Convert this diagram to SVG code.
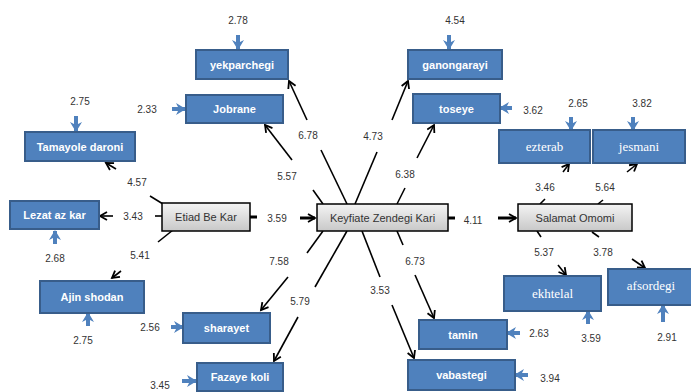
<svg xmlns="http://www.w3.org/2000/svg" width="691" height="392" viewBox="0 0 691 392">
<defs>
<linearGradient id="gg" x1="0" y1="0" x2="0" y2="1">
<stop offset="0" stop-color="#f4f4f4"/>
<stop offset="1" stop-color="#c8c8c8"/>
</linearGradient>
<marker id="ah" markerUnits="userSpaceOnUse" markerWidth="12" markerHeight="12" refX="8" refY="5" orient="auto">
<path d="M1,1 L8,5 L1,9" fill="none" stroke="#000" stroke-width="1.8"/>
</marker>
<marker id="ahb" markerUnits="userSpaceOnUse" markerWidth="14" markerHeight="14" refX="9" refY="6" orient="auto">
<path d="M0,0 L10,6 L0,12 L3,6 z" fill="#4f81bd"/>
</marker>
</defs>
<style>
.bb{fill:#4f81bd;stroke:#385d8a;stroke-width:2}
.gb{fill:url(#gg);stroke:#000;stroke-width:1.5}
.bt{font-family:"Liberation Sans",Arial,sans-serif;font-size:11px;font-weight:bold;fill:#fff;text-anchor:middle}
.st{font-family:"Liberation Serif","Times New Roman",serif;font-size:13px;fill:#fff;text-anchor:middle}
.gt{font-family:"Liberation Sans",Arial,sans-serif;font-size:11px;fill:#333;text-anchor:middle}
.n{font-family:"Liberation Sans",Arial,sans-serif;font-size:10px;fill:#333;text-anchor:middle}
.c line{stroke:#000;stroke-width:1.6}
.c line.a{marker-end:url(#ah)}
.c line.t{stroke-width:3}
.e line{stroke:#4f81bd;stroke-width:4;marker-end:url(#ahb)}
</style>
<rect width="691" height="392" fill="#fff"/>

<g class="c" id="connectors">
<line x1="347" y1="204" x2="321" y2="150"/><line class="a" x1="307" y1="120" x2="289" y2="81"/>
<line x1="323" y1="204" x2="313" y2="190"/><line class="a" x1="292" y1="160" x2="265" y2="125"/>
<line x1="355" y1="204" x2="377" y2="152"/><line class="a" x1="392" y1="120" x2="408" y2="81"/>
<line x1="397" y1="204" x2="405" y2="188"/><line class="a" x1="417" y1="158" x2="434" y2="125"/>
<line x1="323" y1="231" x2="307" y2="253"/><line class="a" x1="288" y1="277" x2="261" y2="310"/>
<line x1="347" y1="231" x2="315" y2="287"/><line class="a" x1="298" y1="317" x2="274" y2="361"/>
<line x1="362" y1="231" x2="380" y2="277"/><line class="a" x1="392" y1="305" x2="414" y2="358"/>
<line x1="397" y1="231" x2="403" y2="245"/><line class="a" x1="415" y1="275" x2="434" y2="318"/>
<line class="t" x1="448" y1="218" x2="455" y2="218"/><line class="t a" x1="498" y1="218" x2="516" y2="218"/>
<line class="t" x1="250" y1="217" x2="257" y2="217"/><line class="t a" x1="300" y1="218" x2="315" y2="218"/>
<line x1="163" y1="204" x2="150" y2="196"/><line class="a" x1="116" y1="169" x2="106" y2="163"/>
<line x1="162" y1="216" x2="155" y2="216"/><line class="a" x1="113" y1="216" x2="100" y2="216"/>
<line x1="173" y1="230" x2="158" y2="242"/><line class="a" x1="121" y1="271" x2="112" y2="278"/>
<line x1="540" y1="204" x2="545" y2="199"/><line class="a" x1="563" y1="172" x2="569" y2="164"/>
<line x1="598" y1="204" x2="603" y2="200"/><line class="a" x1="627" y1="172" x2="637" y2="164"/>
<line x1="537" y1="231" x2="541" y2="237"/><line class="a" x1="558" y1="265" x2="566" y2="275"/>
<line x1="592" y1="232" x2="599" y2="237"/><line class="a" x1="632" y1="259" x2="645" y2="268"/>
</g>

<g class="e" id="error-arrows">
<line x1="238" y1="35" x2="238" y2="49"/>
<line x1="172" y1="109" x2="185" y2="109"/>
<line x1="76" y1="116" x2="76" y2="131"/>
<line x1="55" y1="244" x2="55" y2="231"/>
<line x1="88" y1="326" x2="88" y2="313"/>
<line x1="171" y1="327" x2="183" y2="327"/>
<line x1="182" y1="381" x2="196" y2="381"/>
<line x1="449" y1="35" x2="449" y2="49"/>
<line x1="512" y1="108" x2="500" y2="108"/>
<line x1="571" y1="117" x2="571" y2="130"/>
<line x1="633" y1="117" x2="633" y2="130"/>
<line x1="520" y1="333" x2="507" y2="333"/>
<line x1="528" y1="375" x2="515" y2="375"/>
<line x1="588" y1="324" x2="588" y2="311"/>
<line x1="663" y1="322" x2="663" y2="305"/>
</g>

<g id="keyfiate"><rect class="gb" x="317" y="204" width="131" height="27"/><text class="gt" x="382.5" y="222">Keyfiate Zendegi Kari</text></g>
<g id="etiad"><rect class="gb" x="162" y="203" width="88" height="28"/><text class="gt" x="206" y="221">Etiad Be Kar</text></g>
<g id="salamat"><rect class="gb" x="518" y="204" width="114" height="27"/><text class="gt" x="575" y="222">Salamat Omomi</text></g>

<g id="yekparchegi"><rect class="bb" x="196" y="50" width="92" height="29"/><text class="bt" x="242" y="68.5">yekparchegi</text></g>
<g id="jobrane"><rect class="bb" x="186" y="95" width="97" height="28"/><text class="bt" x="234.5" y="113">Jobrane</text></g>
<g id="tamayole"><rect class="bb" x="25" y="132" width="110" height="29"/><text class="bt" x="80" y="150.5">Tamayole daroni</text></g>
<g id="lezat"><rect class="bb" x="10" y="201" width="89" height="28"/><text class="bt" x="54.5" y="219">Lezat az kar</text></g>
<g id="ajin"><rect class="bb" x="40" y="281" width="104" height="32"/><text class="bt" x="92" y="301">Ajin shodan</text></g>
<g id="sharayet"><rect class="bb" x="183" y="313" width="87" height="30"/><text class="bt" x="226.5" y="332">sharayet</text></g>
<g id="fazaye"><rect class="bb" x="197" y="363" width="86" height="28"/><text class="bt" x="240" y="381">Fazaye koli</text></g>
<g id="ganongarayi"><rect class="bb" x="408" y="50" width="94" height="29"/><text class="bt" x="455" y="68.5">ganongarayi</text></g>
<g id="toseye"><rect class="bb" x="413" y="94" width="87" height="29"/><text class="bt" x="456.5" y="112.5">toseye</text></g>
<g id="ezterab"><rect class="bb" x="499" y="130" width="91" height="33"/><text class="st" x="544.5" y="151">ezterab</text></g>
<g id="jesmani"><rect class="bb" x="593" y="130" width="92" height="33"/><text class="st" x="639" y="151">jesmani</text></g>
<g id="ekhtelal"><rect class="bb" x="504" y="276" width="97" height="35"/><text class="st" x="552.5" y="298">ekhtelal</text></g>
<g id="afsordegi"><rect class="bb" x="608" y="269" width="86" height="36"/><text class="st" x="651" y="290">afsordegi</text></g>
<g id="tamin"><rect class="bb" x="419" y="320" width="88" height="29"/><text class="bt" x="463" y="338.5">tamin</text></g>
<g id="vabastegi"><rect class="bb" x="408" y="360" width="107" height="30"/><text class="bt" x="461.5" y="379">vabastegi</text></g>

<g id="labels">
<text class="n" x="238" y="24">2.78</text>
<text class="n" x="147" y="113">2.33</text>
<text class="n" x="80" y="105">2.75</text>
<text class="n" x="137" y="186">4.57</text>
<text class="n" x="308" y="139">6.78</text>
<text class="n" x="287" y="180">5.57</text>
<text class="n" x="133" y="220">3.43</text>
<text class="n" x="277" y="222">3.59</text>
<text class="n" x="55" y="262">2.68</text>
<text class="n" x="140" y="259">5.41</text>
<text class="n" x="279" y="265">7.58</text>
<text class="n" x="300" y="305">5.79</text>
<text class="n" x="83" y="344">2.75</text>
<text class="n" x="150" y="331">2.56</text>
<text class="n" x="160" y="389">3.45</text>
<text class="n" x="455" y="24">4.54</text>
<text class="n" x="373" y="140">4.73</text>
<text class="n" x="405" y="178">6.38</text>
<text class="n" x="533" y="114">3.62</text>
<text class="n" x="578" y="107">2.65</text>
<text class="n" x="642" y="107">3.82</text>
<text class="n" x="545" y="191">3.46</text>
<text class="n" x="605" y="191">5.64</text>
<text class="n" x="473" y="224">4.11</text>
<text class="n" x="544" y="256">5.37</text>
<text class="n" x="603" y="256">3.78</text>
<text class="n" x="415" y="265">6.73</text>
<text class="n" x="380" y="294">3.53</text>
<text class="n" x="539" y="337">2.63</text>
<text class="n" x="591" y="342">3.59</text>
<text class="n" x="667" y="341">2.91</text>
<text class="n" x="550" y="382">3.94</text>
</g>
</svg>
